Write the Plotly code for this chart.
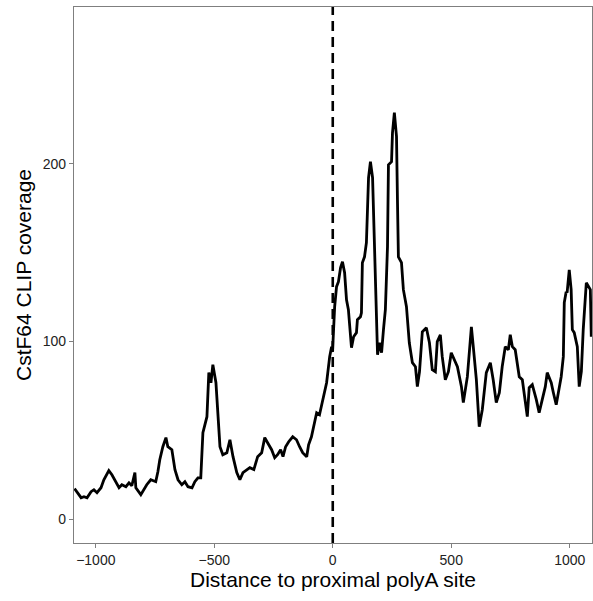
import plotly.graph_objects as go

# CstF64 CLIP coverage around the proximal polyA site
distance = [
    -1090, -1079, -1062, -1050, -1037, -1020, -1008, -995, -978, -966,
    -945, -932, -915, -902, -890, -873, -860, -848, -835, -831,
    -810, -797, -785, -768, -747, -738, -730, -717, -704, -696,
    -679, -666, -653, -637, -624, -611, -594, -582, -569, -557,
    -548, -531, -523, -514, -506, -493, -485, -476, -464, -447,
    -434, -421, -405, -392, -379, -363, -350, -333, -317, -300,
    -287, -275, -258, -245, -233, -220, -210, -199, -186, -169,
    -153, -140, -127, -110, -102, -90, -77, -68, -56, -43,
    -26, -13, -5, -1, 8, 16, 24, 33, 41, 50,
    58, 66, 79, 88, 100, 104, 117, 121, 125, 134,
    142, 151, 159, 168, 176, 184, 189, 197, 206, 214,
    222, 231, 235, 248, 252, 260, 269, 273, 277, 290,
    298, 311, 323, 336, 349, 357, 366, 378, 395, 408,
    420, 433, 441, 454, 462, 475, 488, 500, 517, 526,
    543, 551, 568, 585, 593, 606, 618, 631, 648, 665,
    677, 690, 703, 715, 728, 741, 749, 758, 770, 779,
    787, 800, 812, 821, 829, 842, 859, 871, 884, 897,
    905, 922, 931, 943, 952, 964, 973, 977, 985, 989,
    998, 1006, 1011, 1019, 1032, 1040, 1049, 1057, 1070, 1078,
    1087, 1091,
]
coverage = [
    17.1, 14.8, 12.0, 12.6, 12.0, 15.4, 16.5, 14.8, 17.6, 22.1,
    27.2, 24.9, 21.0, 17.6, 19.3, 18.2, 20.4, 18.7, 26.1, 17.6,
    13.7, 16.5, 19.3, 22.1, 21.0, 26.6, 33.4, 40.7, 45.8, 40.7,
    39.0, 27.8, 22.1, 19.3, 21.0, 18.2, 17.6, 21.0, 23.2, 23.2,
    48.6, 57.6, 82.4, 76.7, 86.9, 76.7, 57.6, 40.7, 36.2, 37.3,
    44.6, 35.1, 26.1, 22.1, 26.1, 27.8, 28.9, 27.8, 35.1, 37.3,
    45.8, 42.9, 39.0, 34.5, 36.2, 39.0, 35.1, 40.7, 43.5, 46.3,
    44.6, 40.7, 37.3, 35.1, 41.8, 46.3, 54.8, 59.8, 58.7, 67.2,
    76.7, 91.4, 97.0, 94.0, 119.5, 130.8, 133.6, 141.5, 144.8, 138.6,
    123.4, 117.8, 96.4, 102.6, 104.9, 112.2, 113.9, 116.1, 144.3, 147.6,
    155.5, 192.1, 201.1, 192.1, 147.6, 113.9, 92.5, 99.2, 93.6, 106.6,
    117.8, 153.3, 199.4, 201.1, 217.4, 228.7, 215.2, 179.7, 147.6, 144.3,
    129.1, 119.5, 99.2, 88.0, 85.7, 74.5, 82.9, 105.4, 107.7, 99.2,
    84.0, 82.9, 99.8, 103.7, 91.4, 78.4, 82.9, 93.6, 88.5, 85.7,
    74.5, 65.5, 80.1, 108.2, 97.0, 78.4, 52.0, 61.5, 82.4, 88.0,
    78.4, 65.5, 71.1, 85.7, 97.0, 95.3, 103.7, 97.0, 95.3, 88.0,
    80.1, 78.4, 67.2, 57.6, 73.9, 75.6, 67.2, 59.8, 67.2, 74.5,
    82.4, 76.7, 71.1, 64.3, 71.1, 80.1, 91.4, 121.8, 127.9, 127.4,
    140.3, 129.1, 106.6, 104.9, 97.0, 74.5, 82.9, 106.6, 133.0, 130.8,
    129.1, 102.6,
]

x_ticks = [-1000, -500, 0, 500, 1000]
y_ticks = [0, 100, 200]

FONT = "Liberation Sans, Arial, Helvetica, sans-serif"

fig = go.Figure()
fig.add_trace(go.Scatter(
    x=distance, y=coverage, mode="lines",
    line=dict(color="black", width=2.8),
    showlegend=False, hoverinfo="skip",
))

# polyA site marker
fig.add_vline(x=0, line=dict(color="black", width=2.6, dash="10px,6px"))

axis_common = dict(
    showgrid=False, zeroline=False,
    showline=True, mirror=True, linecolor="#7f7f7f", linewidth=1.3,
    ticks="outside", ticklen=4, tickwidth=1.3, tickcolor="#7f7f7f",
    tickfont=dict(family=FONT, size=14, color="#222222"),
)

fig.update_layout(
    width=593, height=601,
    margin=dict(l=74, r=1, t=7, b=58),
    paper_bgcolor="white", plot_bgcolor="white",
    xaxis=dict(
        range=[-1092, 1094], tickvals=x_ticks,
        title=dict(text="Distance to proximal polyA site",
                   font=dict(family=FONT, size=21, color="black"), standoff=3),
        **axis_common,
    ),
    yaxis=dict(
        range=[-13.5, 288.2], tickvals=y_ticks,
        title=dict(text="CstF64 CLIP coverage",
                   font=dict(family=FONT, size=21, color="black"), standoff=5),
        **axis_common,
    ),
)

fig.write_html("out.html")
